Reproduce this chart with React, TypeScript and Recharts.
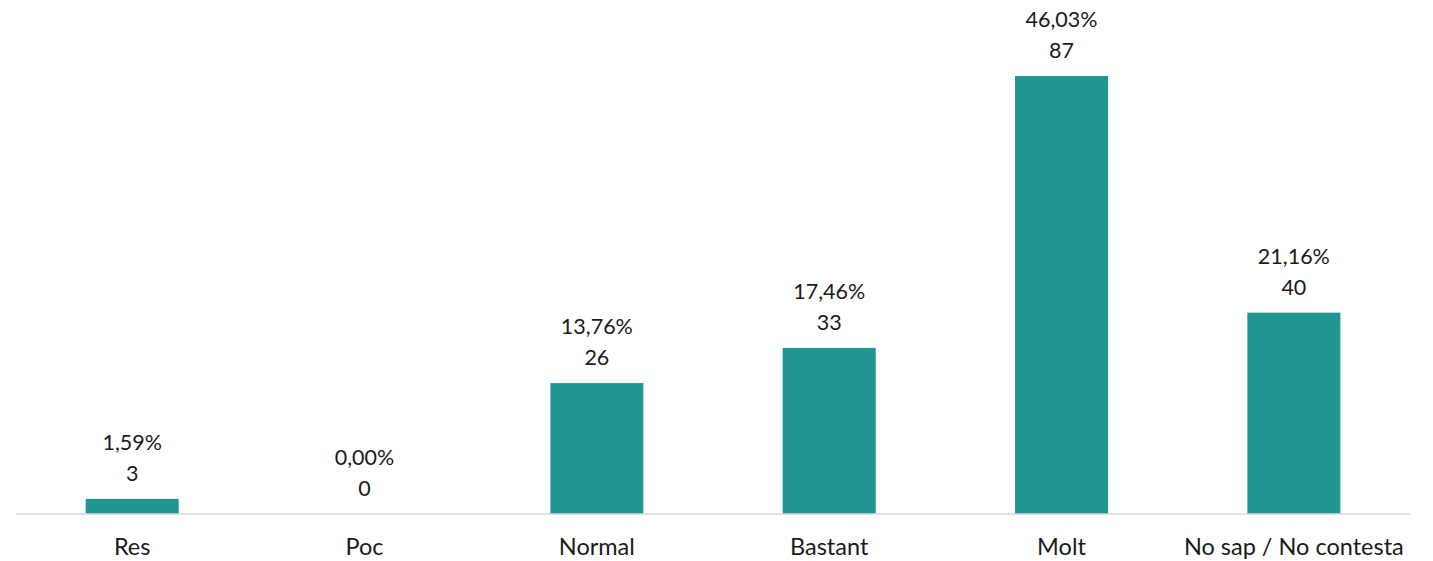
import React from 'react';
import { BarChart, Bar, XAxis, YAxis } from 'recharts';

const categories = ['Res', 'Poc', 'Normal', 'Bastant', 'Molt', 'No sap / No contesta'];
const counts = [3, 0, 26, 33, 87, 40];
const percentages = ['1,59%', '0,00%', '13,76%', '17,46%', '46,03%', '21,16%'];

const data = categories.map((name, i) => ({ name, count: counts[i], pct: percentages[i] }));

const FONT = 'Lato, "Open Sans", sans-serif';
const BAR_COLOR = '#219592';
const TEXT_COLOR = '#1a1a1a';

// Draws the bar plus its two-line label (percentage over count), so zero bars still get labels
const BarWithLabel = (props: any) => {
  const { x, y, width, height, payload } = props;
  const cx = x + width / 2;
  return (
    <g>
      {height > 0 && <rect x={x} y={y} width={width} height={height} fill={BAR_COLOR} />}
      <text x={cx} y={y - 49} textAnchor="middle" fill={TEXT_COLOR} fontSize={21.5} fontFamily={FONT}>
        {payload.pct}
      </text>
      <text x={cx} y={y - 18} textAnchor="middle" fill={TEXT_COLOR} fontSize={21.5} fontFamily={FONT}>
        {payload.count}
      </text>
    </g>
  );
};

export default function App() {
  return (
    <div style={{ position: 'absolute', left: 0, top: 0, width: 1433, height: 561, background: '#fff' }}>
      <BarChart
        width={1433}
        height={561}
        data={data}
        margin={{ top: 10.6, right: 23, bottom: 7, left: 16 }}
        barCategoryGap="30%"
      >
        <XAxis
          dataKey="name"
          height={40}
          axisLine={{ stroke: '#d9d9d9', strokeWidth: 1.5 }}
          tickLine={false}
          tick={{ fill: TEXT_COLOR, fontSize: 23.5, fontFamily: FONT }}
          tickMargin={18}
          interval={0}
        />
        <YAxis hide domain={[0, 100]} />
        <Bar dataKey="count" fill={BAR_COLOR} isAnimationActive={false} shape={BarWithLabel} />
      </BarChart>
    </div>
  );
}
